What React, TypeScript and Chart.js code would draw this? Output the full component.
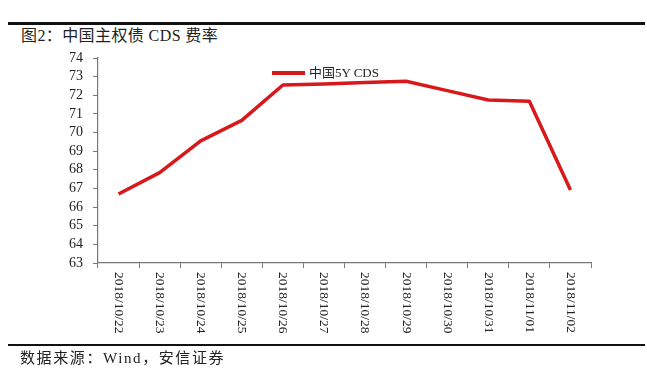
import React, { useEffect, useRef } from "react";
import { Chart, registerables } from "chart.js";

Chart.register(...registerables);

const categories = [
  "2018/10/22", "2018/10/23", "2018/10/24", "2018/10/25", "2018/10/26", "2018/10/27",
  "2018/10/28", "2018/10/29", "2018/10/30", "2018/10/31", "2018/11/01", "2018/11/02",
];
const cdsValues = [66.7, 67.85, 69.55, 70.65, 72.55, 72.6, 72.68, 72.75, 72.25, 71.75, 71.68, 66.92];
const seriesName = "中国5Y CDS";
const titleText = "图2：中国主权债 CDS 费率";
const sourceText = "数据来源：Wind，安信证券";

const SERIF = '"Liberation Serif", "Noto Sans CJK SC", serif';
const RED = "#d7191c";

const xLabelPlugin = {
  id: "xLabelPlugin",
  afterDraw(chart: any) {
    const ctx = chart.ctx;
    const xs = chart.scales.x;
    const top = chart.chartArea.bottom + 9;
    ctx.save();
    ctx.fillStyle = "#222";
    ctx.font = '13.5px "Liberation Serif", serif';
    ctx.textAlign = "left";
    ctx.textBaseline = "middle";
    categories.forEach((lab, i) => {
      const x = xs.getPixelForValue(i);
      ctx.save();
      ctx.translate(x, top);
      ctx.rotate(Math.PI / 2);
      ctx.fillText(lab, 0, 0);
      ctx.restore();
    });
    ctx.restore();
  },
};

export default function App() {
  const ref = useRef<HTMLCanvasElement>(null);
  useEffect(() => {
    if (!ref.current) return;
    const chart = new Chart(ref.current, {
      type: "line",
      data: {
        labels: categories,
        datasets: [
          {
            label: seriesName,
            data: cdsValues,
            borderColor: RED,
            backgroundColor: RED,
            borderWidth: 3.5,
            pointRadius: 0,
            tension: 0,
            borderJoinStyle: "round",
          },
        ],
      },
      options: {
        animation: false,
        responsive: false,
        maintainAspectRatio: false,
        layout: { padding: { left: 0, top: 58, right: 56, bottom: 0 } },
        plugins: { legend: { display: false }, tooltip: { enabled: false } },
        scales: {
          x: {
            type: "category",
            offset: true,
            grid: { offset: true, drawOnChartArea: false, drawTicks: true, tickLength: 5, color: "#777" },
            border: { color: "#777", width: 1.2 },
            ticks: { display: false },
            afterFit: (s: any) => { s.height = 110; },
          },
          y: {
            min: 63,
            max: 74,
            grid: { drawOnChartArea: false, drawTicks: true, tickLength: 5, color: "#777" },
            border: { color: "#777", width: 1.2 },
            ticks: {
              stepSize: 1,
              autoSkip: false,
              padding: 10,
              color: "#222",
              font: { family: '"Liberation Serif", serif', size: 14 },
            },
            afterFit: (s: any) => { s.width = 98; },
          },
        },
      } as any,
      plugins: [xLabelPlugin],
    });
    return () => chart.destroy();
  }, []);

  return (
    <div style={{ position: "fixed", left: 0, top: 0, width: 647, height: 373, background: "#fff", overflow: "hidden", fontFamily: SERIF }}>
      <div style={{ position: "absolute", left: 8, top: 22, width: 637, height: 2.5, background: "#111" }} />
      <div style={{ position: "absolute", left: 21, top: 26, fontSize: 16, letterSpacing: 0.4, lineHeight: "20px", color: "#222", whiteSpace: "nowrap" }}>{titleText}</div>
      <canvas ref={ref} width={647} height={373} style={{ position: "absolute", left: 0, top: 0, width: 647, height: 373 }} />
      <div style={{ position: "absolute", left: 272, top: 71, width: 33, height: 4, background: RED }} />
      <div style={{ position: "absolute", left: 309, top: 64, fontSize: 13, lineHeight: "17px", color: "#222", whiteSpace: "nowrap" }}>{seriesName}</div>
      <div style={{ position: "absolute", left: 8, top: 344, width: 637, height: 2, background: "#111" }} />
      <div style={{ position: "absolute", left: 20, top: 349, fontSize: 15, letterSpacing: 1.6, lineHeight: "19px", color: "#222", whiteSpace: "nowrap" }}>{sourceText}</div>
    </div>
  );
}
